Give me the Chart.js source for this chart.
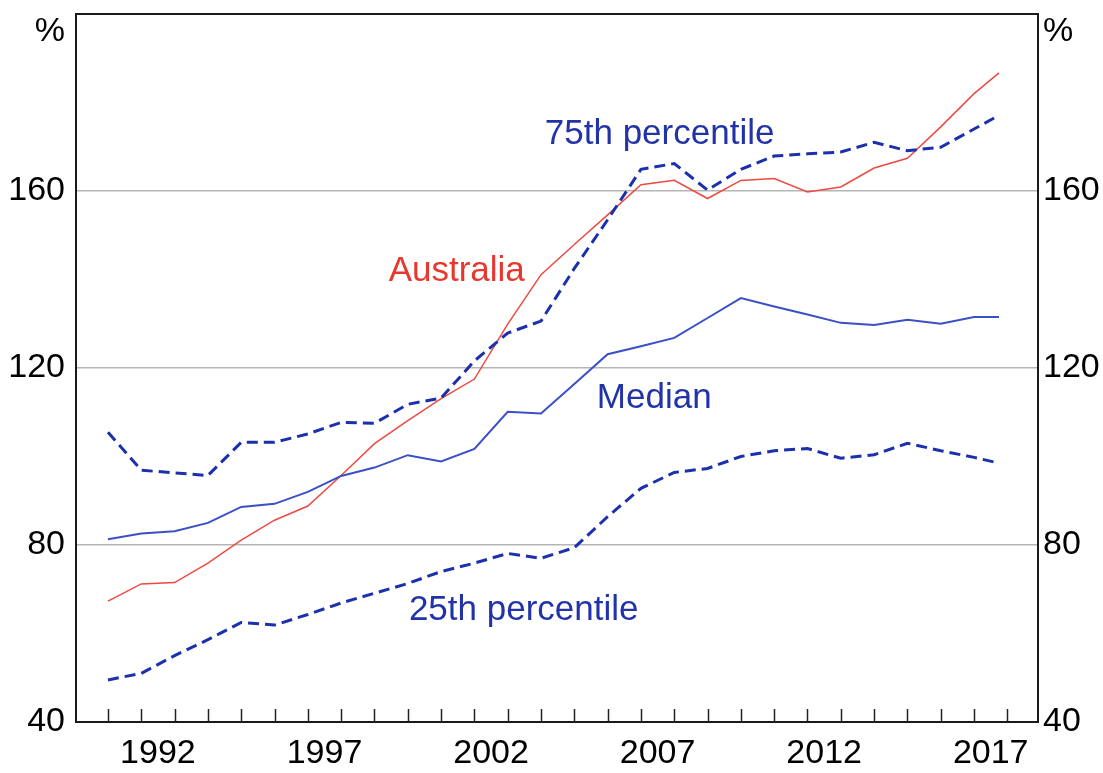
<!DOCTYPE html>
<html>
<head>
<meta charset="utf-8">
<script src="https://cdn.jsdelivr.net/npm/chart.js@4.4.0/dist/chart.umd.min.js"></script>
<style>
  body { margin: 0; background: #fff; }
</style>
</head>
<body>
<canvas id="debtChart" width="1103" height="773"></canvas>
<script>
/**
 *  ! Data
 * **/
const years = [
  1991, 1992, 1993, 1994, 1995, 1996, 1997, 1998, 1999, 2000, 2001, 2002, 2003, 2004,
  2005, 2006, 2007, 2008, 2009, 2010, 2011, 2012, 2013, 2014, 2015, 2016, 2017, 2017.75,
];
const australia = [
  67.3, 71.2, 71.5, 75.9, 81.1, 85.6, 88.8, 95.7, 102.9, 108.1, 113.1, 117.5, 129.9, 141.1,
  147.9, 154.6, 161.4, 162.4, 158.3, 162.4, 162.8, 159.8, 160.9, 165.2, 167.4, 174.5, 182.0, 186.7,
];
const median = [
  81.3, 82.6, 83.1, 85.0, 88.6, 89.3, 92.0, 95.6, 97.5, 100.3, 98.9, 101.7, 110.1, 109.7,
  116.4, 123.1, 124.9, 126.8, 131.3, 135.8, 133.9, 132.1, 130.2, 129.7, 130.9, 130.0, 131.5, 131.5,
];
const p75 = [
  105.5, 96.9, 96.3, 95.7, 103.2, 103.2, 105.1, 107.7, 107.5, 111.8, 113.2, 121.6, 127.9, 130.6,
  142.5, 153.5, 164.9, 166.2, 160.2, 164.9, 167.9, 168.4, 168.8, 171.0, 169.1, 169.9, 174.0, 177.1,
];
const p25 = [
  49.5, 51.0, 55.0, 58.6, 62.5, 61.9, 64.3, 66.9, 69.1, 71.3, 74.0, 75.9, 78.1, 77.0,
  79.4, 86.4, 92.8, 96.4, 97.3, 100.0, 101.3, 101.8, 99.6, 100.4, 103.0, 101.3, 99.8, 98.5,
];
const tickLabels = ["1992", "1997", "2002", "2007", "2012", "2017"];
const yTicks = [40, 80, 120, 160];

const toPoints = (vals) => vals.map((v, i) => ({ x: years[i], y: v }));

const RED = "#ec4a43";
const BLUE = "#3b4fc6";
const DARK_BLUE = "#1c30ad";
const LABEL_BLUE = "#2233a8";
const FONT = "'Liberation Sans', Arial, sans-serif";

// text labels placed in data units (year, %)
const seriesLabels = [
  { text: "75th percentile", x: 2007.56, y: 172.7, color: LABEL_BLUE },
  { text: "Australia", x: 2001.47, y: 141.9, color: "#e8372e" },
  { text: "Median", x: 2007.4, y: 113.2, color: LABEL_BLUE },
  { text: "25th percentile", x: 2003.48, y: 65.2, color: LABEL_BLUE },
];

/**
 *  ! Plugins: frame, inward year ticks, % signs and line labels
 * **/
const decorations = {
  id: "decorations",
  afterDatasetsDraw(chart) {
    const { ctx, chartArea: a, scales } = chart;
    ctx.save();
    // year tick marks pointing up from the bottom axis
    ctx.strokeStyle = "#222";
    ctx.lineWidth = 1.5;
    for (let yr = years[0]; yr <= 2018; yr++) {
      const px = Math.round(scales.x.getPixelForValue(yr)) + 0.5;
      ctx.beginPath();
      ctx.moveTo(px, a.bottom);
      ctx.lineTo(px, a.bottom - 13);
      ctx.stroke();
    }
    // frame
    ctx.lineWidth = 2;
    ctx.strokeStyle = "#1a1a1a";
    ctx.strokeRect(a.left, a.top, a.right - a.left, a.bottom - a.top);

    // % signs
    ctx.font = "34px " + FONT;
    ctx.fillStyle = "#000";
    ctx.textBaseline = "middle";
    ctx.textAlign = "right";
    ctx.fillText("%", a.left - 11, a.top + 18);
    ctx.textAlign = "left";
    ctx.fillText("%", a.right + 5, a.top + 18);

    // series labels
    ctx.font = "35px " + FONT;
    ctx.textAlign = "center";
    seriesLabels.forEach((l) => {
      ctx.fillStyle = l.color;
      ctx.fillText(l.text, scales.x.getPixelForValue(l.x), scales.y.getPixelForValue(l.y));
    });
    ctx.restore();
  },
};

// vertical axes: no extra room above the plot for the top label
const noVerticalPadding = (scale) => {
  scale.paddingTop = 0;
  scale.paddingBottom = 0;
};

/**
 *  ! Chart
 * **/
const canvas = document.getElementById("debtChart");

new Chart(canvas, {
  type: "line",
  data: {
    datasets: [
      {
        label: "25th percentile",
        data: toPoints(p25),
        borderColor: DARK_BLUE,
        borderWidth: 3,
        borderDash: [11, 6],
      },
      {
        label: "75th percentile",
        data: toPoints(p75),
        borderColor: DARK_BLUE,
        borderWidth: 3,
        borderDash: [11, 6],
      },
      {
        label: "Median",
        data: toPoints(median),
        borderColor: BLUE,
        borderWidth: 2,
      },
      {
        label: "Australia",
        data: toPoints(australia),
        borderColor: RED,
        borderWidth: 1.5,
      },
    ],
  },
  options: {
    responsive: false,
    animation: false,
    devicePixelRatio: 1,
    layout: { padding: { top: 14, left: 0, right: 0, bottom: 0 } },
    elements: {
      point: { radius: 0 },
      line: { tension: 0, fill: false },
    },
    scales: {
      x: {
        type: "linear",
        min: 1990.04,
        max: 2018.92,
        afterBuildTicks: (scale) => {
          scale.ticks = tickLabels.map((t) => ({ value: Number(t) + 0.5 }));
        },
        afterFit: (scale) => {
          scale.height = 51;
          scale.paddingLeft = 0;
          scale.paddingRight = 0;
        },
        ticks: {
          autoSkip: false,
          maxRotation: 0,
          padding: 3,
          color: "#000",
          font: { family: FONT, size: 34 },
          callback: (value) => String(Math.floor(value)),
        },
        grid: { display: false },
        border: { display: false },
      },
      y: {
        position: "left",
        min: 40,
        max: 200,
        afterBuildTicks: (scale) => {
          scale.ticks = yTicks.map((v) => ({ value: v }));
        },
        afterFit: (scale) => {
          scale.width = 76;
          noVerticalPadding(scale);
        },
        ticks: {
          padding: 11,
          color: "#000",
          font: { family: FONT, size: 34 },
        },
        grid: {
          drawTicks: false,
          lineWidth: 1.5,
          color: (c) => (c.tick && c.tick.value > 40 ? "#b5b5b5" : "rgba(0,0,0,0)"),
        },
        border: { display: false },
      },
      y2: {
        position: "right",
        min: 40,
        max: 200,
        afterBuildTicks: (scale) => {
          scale.ticks = yTicks.map((v) => ({ value: v }));
        },
        afterFit: (scale) => {
          scale.width = 65;
          noVerticalPadding(scale);
        },
        ticks: {
          padding: 5,
          color: "#000",
          font: { family: FONT, size: 34 },
        },
        grid: { display: false, drawTicks: false },
        border: { display: false },
      },
    },
    plugins: {
      legend: { display: false },
      tooltip: { enabled: false },
    },
  },
  plugins: [decorations],
});
</script>
</body>
</html>
